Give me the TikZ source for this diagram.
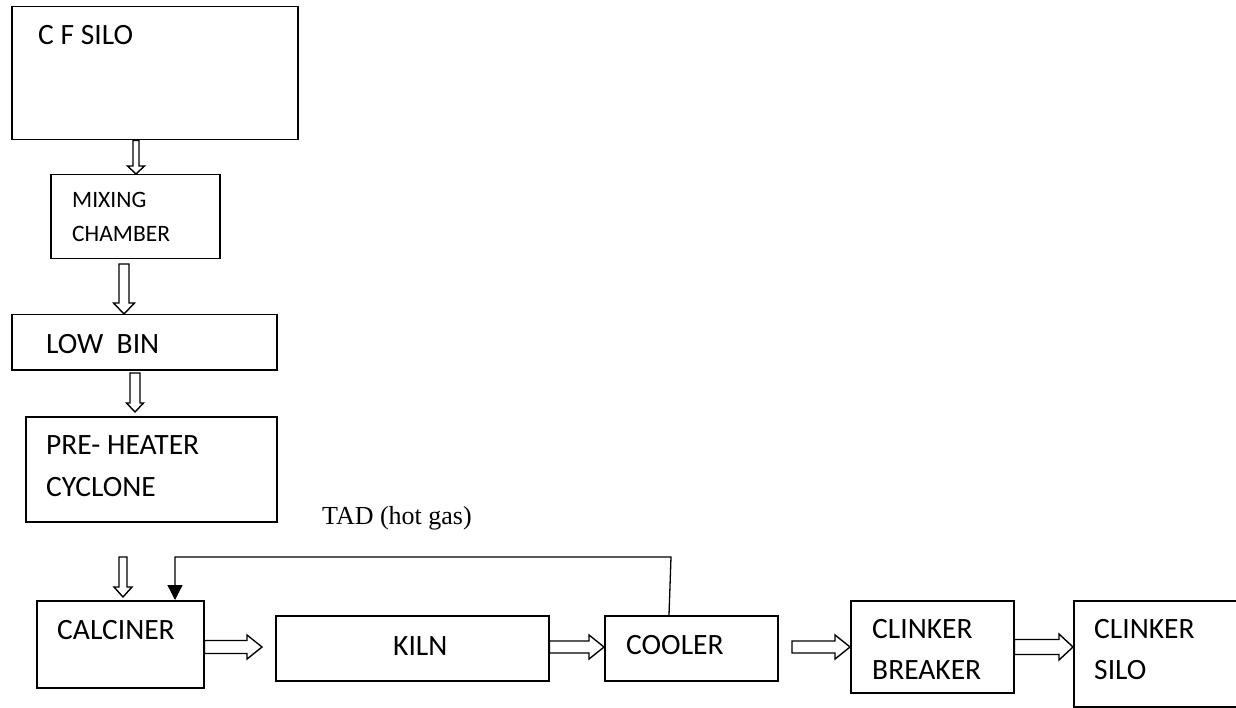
\documentclass[tikz,border=0pt]{standalone}
\usepackage{fontspec}
\setmainfont{Carlito}
\newfontfamily\serifnote{Liberation Serif}
\usetikzlibrary{arrows.meta,calc}

% block (outlined) arrow pointing down: #1 start, #2 tip, #3 shaft half width, #4 head half width, #5 head length
\newcommand\downblock[5]{%
  \draw[blockarrow] let \p1=(#1), \p2=(#2) in
    (\x1-#3pt,\y1) -- (\x1-#3pt,\y2+#5pt) -- (\x1-#4pt,\y2+#5pt) -- (\x1,\y2)
    -- (\x1+#4pt,\y2+#5pt) -- (\x1+#3pt,\y2+#5pt) -- (\x1+#3pt,\y1) -- cycle;}
% block arrow pointing right
\newcommand\rightblock[5]{%
  \draw[blockarrow] let \p1=(#1), \p2=(#2) in
    (\x1,\y1+#3pt) -- (\x2-#5pt,\y1+#3pt) -- (\x2-#5pt,\y1+#4pt) -- (\x2,\y1)
    -- (\x2-#5pt,\y1-#4pt) -- (\x2-#5pt,\y1-#3pt) -- (\x1,\y1-#3pt) -- cycle;}

\tikzset{
  box/.style={draw, line width=1.5pt, inner sep=0pt, anchor=north west, fill=none},
  lbl/.style={anchor=base west, inner sep=0pt, font=\fontsize{29.5}{34}\selectfont},
  smalllbl/.style={anchor=base west, inner sep=0pt, font=\fontsize{23.5}{28}\selectfont},
  blockarrow/.style={draw, line width=1.4pt, fill=white, line join=miter},
  gasline/.style={draw, line width=1.3pt}
}

\begin{document}
\begin{tikzpicture}[x=1pt, y=-1pt]
\useasboundingbox (0,0) rectangle (1236,708);
\clip (0,0) rectangle (1236,708);
\fill[white] (0,0) rectangle (1236,708);

% process units
\node[box, minimum width=286pt, minimum height=133pt] (cfsilo) at (11,6) {};
\node[box, minimum width=169pt, minimum height=84pt] (mix) at (50,174) {};
\node[box, minimum width=265pt, minimum height=55pt] (lowbin) at (11,314) {};
\node[box, minimum width=251pt, minimum height=105pt] (preheat) at (25,416) {};
\node[box, minimum width=167pt, minimum height=87pt] (calc) at (36,600) {};
\node[box, minimum width=273pt, minimum height=65pt] (kiln) at (275,615) {};
\node[box, minimum width=173pt, minimum height=65pt] (cooler) at (604,615) {};
\node[box, minimum width=163pt, minimum height=92pt] (breaker) at (850,600) {};
\node[box, minimum width=200pt, minimum height=106pt] (csilo) at (1073,600) {};

% labels
\node[lbl] (cfsilo-t) at (38,45) {C F SILO};
\node[smalllbl] (mix-t1) at (72,208) {MIXING};
\node[smalllbl] (mix-t2) at (72,242) {CHAMBER};
\node[lbl] (lowbin-t) at (46,353) {LOW\ \ BIN};
\node[lbl] (preheat-t1) at (46,454) {PRE- HEATER};
\node[lbl] (preheat-t2) at (46,496) {CYCLONE};
\node[lbl] (calc-t) at (57,639) {CALCINER};
\node[lbl] (kiln-t) at (393,655) {KILN};
\node[lbl] (cooler-t) at (626,654) {COOLER};
\node[lbl] (breaker-t1) at (872,638) {CLINKER};
\node[lbl] (breaker-t2) at (872,679) {BREAKER};
\node[lbl] (csilo-t1) at (1094,638) {CLINKER};
\node[lbl] (csilo-t2) at (1094,679) {SILO};
\node[anchor=base west, inner sep=0pt, font=\serifnote\fontsize{26}{30}\selectfont] (tad) at (322,524) {TAD (hot gas)};

% material flow down the tower
\coordinate (a1s) at (136,0 |- cfsilo.south);
\coordinate (a1t) at (136,0 |- mix.north);
\downblock{a1s}{a1t}{3}{8.5}{8}
\coordinate (a2s) at (124,264);
\coordinate (a2t) at (124,0 |- lowbin.north);
\downblock{a2s}{a2t}{5}{10.5}{11}
\coordinate (a3s) at (135,373);
\coordinate (a3t) at (135,412);
\downblock{a3s}{a3t}{5}{8.5}{9}
\coordinate (a4s) at (123,557);
\coordinate (a4t) at (123,597);
\downblock{a4s}{a4t}{4}{9}{10}

% material flow along the kiln line
\coordinate (b1s) at (calc.east |- 0,647);
\coordinate (b1t) at (262,647);
\rightblock{b1s}{b1t}{6.5}{12}{15}
\coordinate (b2s) at (kiln.east |- 0,647);
\coordinate (b2t) at (cooler.west |- 0,647);
\rightblock{b2s}{b2t}{6}{12}{15}
\coordinate (b3s) at (792,647);
\coordinate (b3t) at (breaker.west |- 0,647);
\rightblock{b3s}{b3t}{6}{12}{15}
\coordinate (b4s) at (breaker.east |- 0,647);
\coordinate (b4t) at (csilo.west |- 0,647);
\rightblock{b4s}{b4t}{7.5}{13}{14}

% tertiary air duct from cooler back to calciner
\coordinate (tadbend) at (671,557);
\coordinate (tadleft) at (175,557);
\draw[gasline, -{Triangle[width=15pt,length=15pt]}]
  (669,0 |- cooler.north) -- (tadbend) -- (tadleft) -- (175,0 |- calc.north);
\end{tikzpicture}
\end{document}
